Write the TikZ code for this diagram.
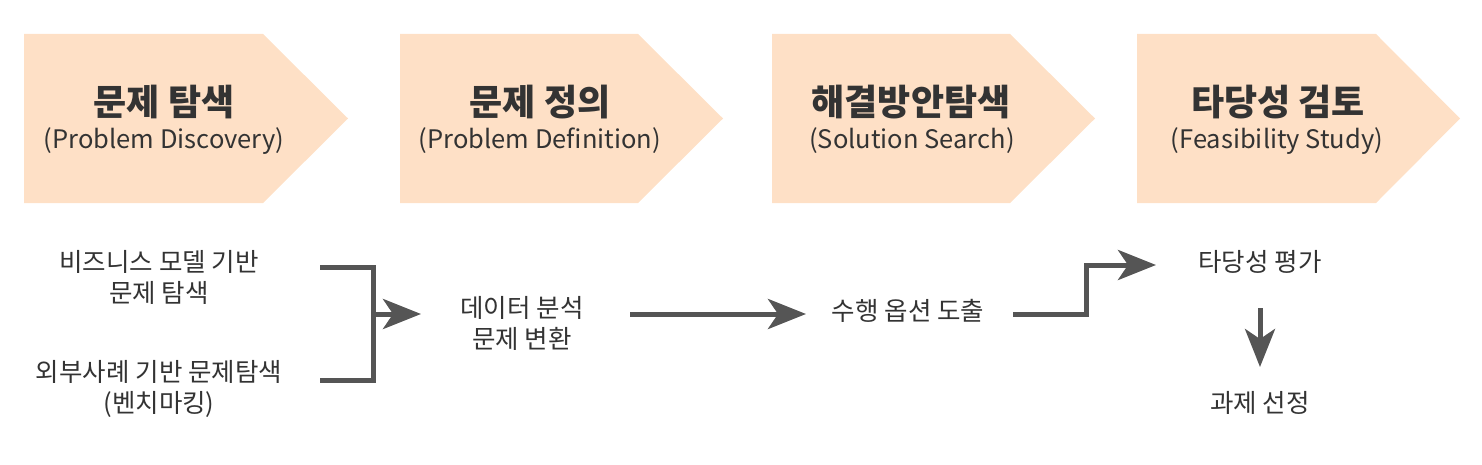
\documentclass[tikz,border=0pt]{standalone}
\usepackage{fontspec}
\setmainfont{Noto Sans CJK KR}
\usetikzlibrary{arrows.meta}
\definecolor{peach}{HTML}{FEE0C6}
\definecolor{ink}{HTML}{333333}
\definecolor{arrowgray}{HTML}{555555}
\tikzstyle{stage} = [fill=peach]
\tikzstyle{title} = [text=ink, inner sep=0pt, font=\fontsize{36}{40}\selectfont\bfseries]
\tikzstyle{subtitle} = [text=ink, inner sep=0pt, font=\fontsize{25.5}{30}\selectfont]
\tikzstyle{task} = [text=ink, inner sep=0pt, align=center, font=\fontsize{25.5}{31}\selectfont]
\tikzstyle{link} = [line width=5pt, draw=arrowgray]
\tikzstyle{arrow} = [link, -{Stealth[length=38pt, width=30pt, inset=10pt]}]

\begin{document}
\begin{tikzpicture}[x=1pt, y=-1pt]
        \useasboundingbox (0,0) rectangle (1482,465);
        % stages
        \fill[stage] (24,34) -- (263,34) -- (348,118.5) -- (263,203) -- (24,203) -- cycle;
        \fill[stage] (400,34) -- (638,34) -- (723,118.5) -- (638,203) -- (400,203) -- cycle;
        \fill[stage] (772,34) -- (1010,34) -- (1095,118.5) -- (1010,203) -- (772,203) -- cycle;
        \fill[stage] (1137,34) -- (1376,34) -- (1460,118.5) -- (1376,203) -- (1137,203) -- cycle;

        \node (discovery) [title] at (164,102) {문제 탐색};
        \node (discoverysub) [subtitle] at (164,141) {(Problem Discovery)};
        \node (definition) [title] at (540,102) {문제 정의};
        \node (definitionsub) [subtitle] at (540,141) {(Problem Definition)};
        \node (search) [title] at (911,102) {해결방안탐색};
        \node (searchsub) [subtitle] at (912,141) {(Solution Search)};
        \node (feasibility) [title] at (1278,102) {타당성 검토};
        \node (feasibilitysub) [subtitle] at (1277,141) {(Feasibility Study)};

        % tasks
        \node (business) [task] at (159,277) {비즈니스 모델 기반\\문제 탐색};
        \node (bench) [task] at (159,389) {외부사례 기반 문제탐색\\(벤치마킹)};
        \node (data) [task] at (522,323) {데이터 분석\\문제 변환};
        \node (options) [task] at (908,311) {수행 옵션 도출};
        \node (evaluate) [task] at (1260,262) {타당성 평가};
        \node (select) [task] at (1260,403) {과제 선정};

        \coordinate (businessout) at (320,267);
        \coordinate (benchout) at (320,380);
        \coordinate (fork) at (373,314);
        \coordinate (datain) at (421,314);
        \coordinate (dataout) at (630,314);
        \coordinate (optionsin) at (806,314);
        \coordinate (optionsout) at (1013,314);
        \coordinate (step) at (1086,265);
        \coordinate (evaluatein) at (1156,265);
        \coordinate (evaluateout) at (1260,308);
        \coordinate (selectin) at (1260,367);

        \draw [link] (businessout) -| (fork) |- (benchout);
        \draw [arrow] (fork) -- (datain);
        \draw [arrow] (dataout) -- (optionsin);
        \draw [arrow] (optionsout) -| (step) -- (evaluatein);
        \draw [arrow] (evaluateout) -- (selectin);
    \end{tikzpicture}
\end{document}
